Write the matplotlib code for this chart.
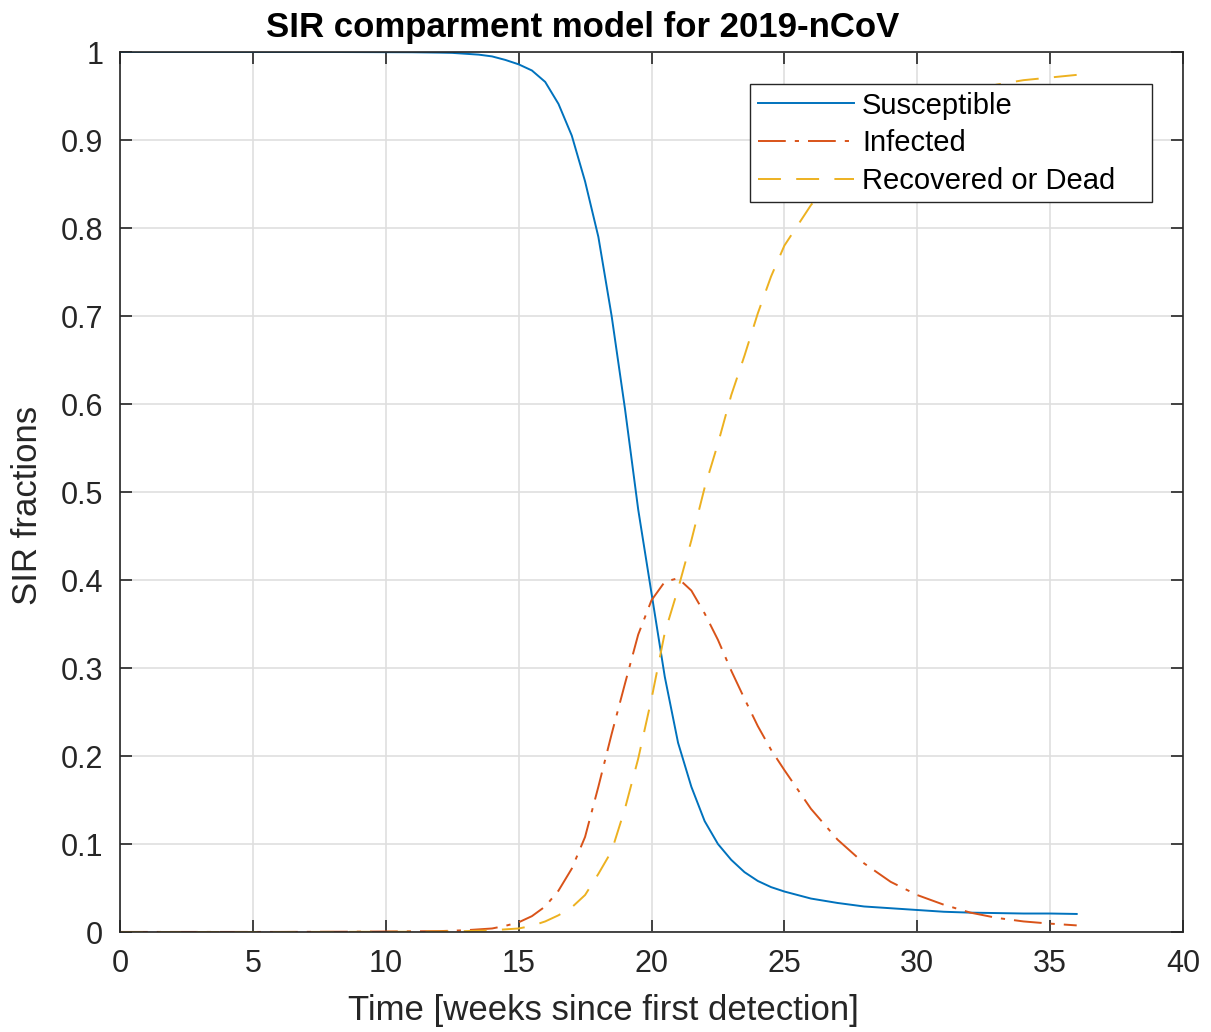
#!/usr/bin/env python3
"""SIR compartment model curves for 2019-nCoV (MATLAB-style figure)."""

import matplotlib
matplotlib.use('Agg')
import matplotlib.pyplot as plt
from matplotlib.ticker import FormatStrFormatter

plt.rcParams.update({
    'font.family': ['Liberation Sans', 'DejaVu Sans'],
    'lines.scale_dashes': False,
})

# time in weeks since first detection
weeks = [0, 1, 2, 3, 4, 5, 6, 7, 8, 9, 10, 11, 12, 12.5, 13, 13.5, 14, 14.5,
         15, 15.5, 16, 16.5, 17, 17.5, 18, 18.5, 19, 19.5,
         20, 20.5, 21, 21.5, 22, 22.5, 23, 23.5, 24, 24.5,
         25, 26, 27, 28, 29, 30, 31, 32, 33, 34, 35, 36]

susceptible = [1.0, 1.0, 1.0, 1.0, 1.0, 1.0, 1.0, 1.0, 1.0, 0.9999, 0.9998, 0.9997, 0.9993, 0.999, 0.998, 0.997, 0.995, 0.991,
               0.986, 0.979, 0.966, 0.941, 0.905, 0.853, 0.790, 0.700, 0.595, 0.480,
               0.385, 0.290, 0.215, 0.165, 0.126, 0.100, 0.082, 0.068, 0.058, 0.051,
               0.046, 0.038, 0.033, 0.029, 0.027, 0.025, 0.023, 0.022, 0.0215, 0.021, 0.021, 0.0205]

infected = [0.0001, 0.0001, 0.0001, 0.0001, 0.0001, 0.0001, 0.0001, 0.0002, 0.0003, 0.0004, 0.0006, 0.0008, 0.001, 0.0015, 0.002, 0.003, 0.004, 0.007,
            0.011, 0.018, 0.029, 0.047, 0.072, 0.108, 0.165, 0.225, 0.282, 0.338,
            0.377, 0.398, 0.402, 0.388, 0.362, 0.332, 0.297, 0.265, 0.234, 0.207,
            0.184, 0.140, 0.105, 0.078, 0.057, 0.042, 0.031, 0.022, 0.016, 0.012, 0.0095, 0.0075]

recovered = [0.0, 0.0, 0.0, 0.0, 0.0, 0.0, 0.0, 0.0001, 0.0001, 0.0002, 0.0002, 0.0003, 0.0005, 0.0007, 0.001, 0.0015, 0.002, 0.003,
             0.004, 0.007, 0.012, 0.019, 0.028, 0.042, 0.066, 0.092, 0.140, 0.197,
             0.265, 0.340, 0.390, 0.445, 0.505, 0.555, 0.610, 0.655, 0.703, 0.745,
             0.780, 0.826, 0.862, 0.892, 0.916, 0.933, 0.946, 0.956, 0.963, 0.968, 0.971, 0.974]

C_S = '#0072BD'
C_I = '#D95319'
C_R = '#EDB120'
C_AX = '#262626'

W, H = 1211, 1032
fig = plt.figure(figsize=(W / 100, H / 100), dpi=100)
ax = fig.add_axes([120 / W, (H - 932) / H, 1063 / W, 880 / H])

ax.plot(weeks, susceptible, color=C_S, lw=1.4, label='Susceptible')
ax.plot(weeks, infected, color=C_I, lw=1.4, linestyle=(0, (20, 6.5, 3, 6.5)), label='Infected')
ax.plot(weeks, recovered, color=C_R, lw=1.4, linestyle=(0, (16.5, 11)), label='Recovered or Dead')

ax.set_xlim(0, 40)
ax.set_ylim(0, 1)
ax.set_xticks(range(0, 41, 5))
ax.set_yticks([i / 10 for i in range(11)])
ax.yaxis.set_major_formatter(FormatStrFormatter('%g'))

ax.grid(True, color='#dfdfdf', lw=1.2)
ax.set_axisbelow(True)
for s in ax.spines.values():
    s.set_color(C_AX)
    s.set_linewidth(1.2)
ax.tick_params(direction='in', length=8.5, width=1.2, color=C_AX, labelcolor=C_AX,
               labelsize=22, top=True, right=True, pad=12)

ax.set_title('SIR comparment model for 2019-nCoV', fontsize=25, fontweight='bold',
             x=0.4356, y=1.017, pad=0)
ax.set_xlabel('Time [weeks since first detection]', fontsize=25, color=C_AX)
ax.xaxis.set_label_coords(0.455, -0.071)
ax.set_ylabel('SIR fractions', fontsize=25, color=C_AX)
ax.yaxis.set_label_coords(-0.0715, 0.485)

# legend box spans px 750..1152 horizontally, top at px 84
leg = ax.legend(loc='upper left', bbox_to_anchor=(0.5927, 0.5, 0.3782, 0.4636), mode='expand',
                borderaxespad=0, fontsize=21, fancybox=False, edgecolor=C_AX, framealpha=1,
                handlelength=3.3, handletextpad=0.28, borderpad=0.26, labelspacing=0.33)
leg.get_frame().set_linewidth(1.0)

fig.savefig('out.png', dpi=100)
plt.close(fig)
